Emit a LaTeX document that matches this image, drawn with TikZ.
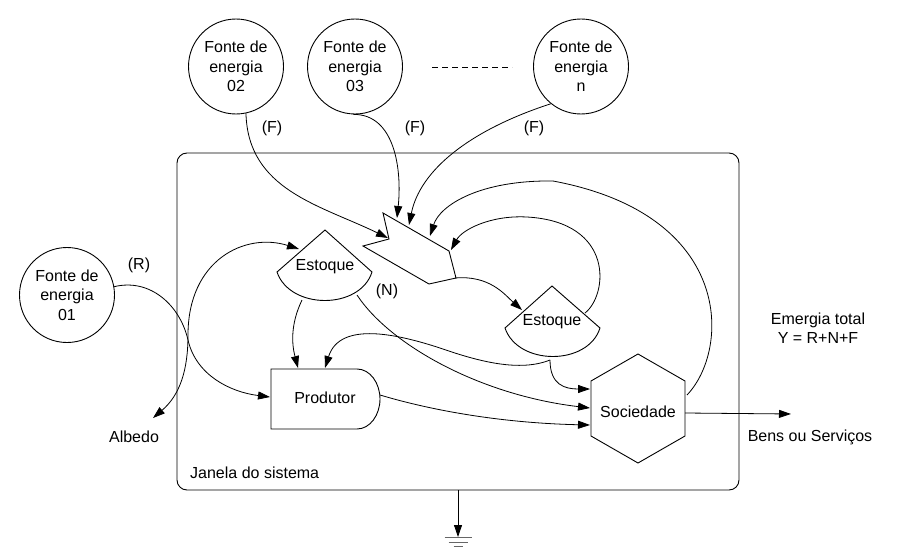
\documentclass[tikz,border=0pt]{standalone}
\usepackage{fontspec}
\setmainfont{Liberation Sans}
\usetikzlibrary{arrows.meta}
\begin{document}
\begin{tikzpicture}[x=1pt,y=-1pt,
  every node/.style={font=\fontsize{16}{19.5}\selectfont, inner sep=0pt},
  src/.style={circle,draw,line width=0.9pt,minimum size=95pt,align=center},
  shp/.style={draw,line width=0.9pt},
  flow/.style={draw,line width=0.8pt,-{Triangle[length=12pt,width=8pt]}},
  both/.style={draw,line width=0.8pt,{Triangle[length=12pt,width=8pt]}-{Triangle[length=12pt,width=8pt]}},
]
\useasboundingbox (0,0) rectangle (897,551);

% system window
\draw[line width=0.9pt,rounded corners=10pt] (177,153) rectangle (739,490);
\node[anchor=west] (jan) at (190,473) {Janela do sistema};

% sources
\node[src] (f02) at (236,66.5) {Fonte de\\energia\\02};
\node[src] (f03) at (355,66.5) {Fonte de\\energia\\03};
\node[src] (fn)  at (581,66.5) {Fonte de\\energia\\n};
\node[src] (f01) at (67,295) {Fonte de\\energia\\01};
\coordinate (dA) at (432,67);
\coordinate (dB) at (512,67);
\draw[line width=0.8pt,dash pattern=on 6pt off 4pt] (dA) -- (dB);

% interaction symbol
\draw[shp] (383,213) -- (449,251) -- (456,278) -- (429,284) -- (363,246) -- (389,239) -- cycle;
\coordinate (iF2) at (388,238);
\coordinate (iF3) at (397,218);
\coordinate (iFn) at (409,225);
\coordinate (iSoc) at (430,236);
\coordinate (iE2) at (451,250);
\coordinate (iOut) at (455,278);

% storage 1
\draw[shp] (325,230) -- (277,272) .. controls (290,310) and (360,310) .. (372,272) -- cycle;
\node (est1) at (325,267) {Estoque};
\coordinate (e1L) at (299,249);
\coordinate (e1B) at (302,300);
\coordinate (e1R) at (357,295);

% storage 2
\draw[shp] (552,286) -- (505,328) .. controls (518,366) and (588,366) .. (600,328) -- cycle;
\node (est2) at (552,322) {Estoque};
\coordinate (e2L) at (522,310);
\coordinate (e2R) at (585,313);
\coordinate (e2B) at (550,360);

% producer
\draw[shp] (357,369) -- (271,369) -- (271,429) -- (357,429)
  .. controls (370,429) and (380,415) .. (380,399)
  .. controls (380,383) and (370,369) .. (357,369) -- cycle;
\node (prod) at (325,398) {Produtor};
\coordinate (pL) at (270,397);
\coordinate (pT1) at (298,368);
\coordinate (pT2) at (325,368);
\coordinate (pR) at (380,395);

% society
\draw[shp] (638,354) -- (591,381) -- (591,436) -- (638,463) -- (685,436) -- (685,381) -- cycle;
\node (soc) at (638,412) {Sociedade};
\coordinate (sL1) at (590,389);
\coordinate (sL2) at (590,408);
\coordinate (sL3) at (590,425);
\coordinate (sR) at (685,413);
\coordinate (sRU) at (687,395);

% outside labels
\node (alb) at (134,437) {Albedo};
\coordinate (albT) at (153,418);
\node (bens) at (810,437) {Bens ou Serviços};
\coordinate (bensT) at (791,414);
\node[align=center] (emer) at (818,328) {Emergia total\\Y = R+N+F};
\node (lF1) at (272,128) {(F)};
\node (lF2) at (415,128) {(F)};
\node (lF3) at (534,128) {(F)};
\node (lR) at (139,265) {(R)};
\node (lN) at (387,291) {(N)};

% flows
\draw[flow] (f02.-78) .. controls (248,190) and (320,205) .. (iF2);
\draw[flow] (f03.-92) .. controls (395,114) and (402,170) .. (iF3);
\draw[flow] (fn.-129) .. controls (470,130) and (420,170) .. (iFn);
\draw[flow] (sRU) .. controls (730,350) and (735,215) .. (553,181)
  .. controls (480,180) and (440,205) .. (iSoc);
\draw[flow] (e2R) .. controls (608,295) and (615,222) .. (527,217)
  .. controls (490,215) and (462,230) .. (iE2);
\draw[flow] (iOut) .. controls (490,275) and (505,295) .. (e2L);
\draw[both] (albT) .. controls (180,395) and (188,370) .. (188,335)
  .. controls (188,260) and (245,232) .. (e1L);
\draw[flow] (f01.10) .. controls (150,278) and (180,305) .. (188,340)
  .. controls (196,375) and (230,392) .. (pL);
\draw[flow] (e1B) .. controls (290,325) and (292,345) .. (pT1);
\draw[flow] (e1R) .. controls (390,345) and (480,395) .. (sL2);
\draw[flow] (e2B) .. controls (520,372) and (480,362) .. (440,348)
  .. controls (400,335) and (340,320) .. (pT2);
\draw[flow] (e2B) .. controls (550,385) and (565,389) .. (sL1);
\draw[flow] (pR) .. controls (430,410) and (500,423) .. (sL3);
\draw[flow] (sR) -- (bensT);

% heat sink
\coordinate (gTop) at (458,490);
\coordinate (gTip) at (458,537);
\draw[flow] (gTop) -- (gTip);
\draw[line width=1pt,black!60] (444.5,537.5) -- (471.5,537.5);
\draw[line width=1pt,black!60] (448.5,542) -- (467.5,542);
\draw[line width=1pt,black!60] (453.5,546.5) -- (462.5,546.5);
\end{tikzpicture}
\end{document}
